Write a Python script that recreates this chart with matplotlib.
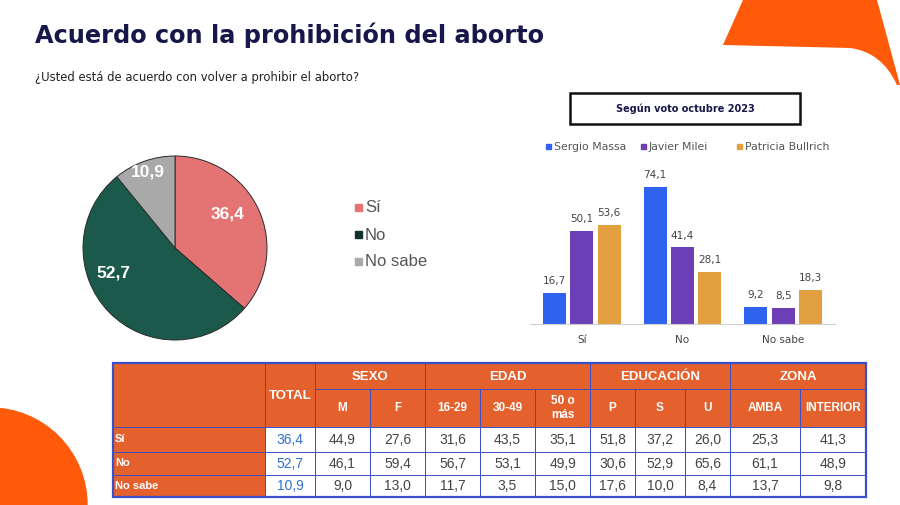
import matplotlib.pyplot as plt
import numpy as np
from matplotlib.patches import Rectangle, Circle, PathPatch
from matplotlib.path import Path

# pie data
pie_labels = ['Sí', 'No', 'No sabe']
pie_values = [36.4, 52.7, 10.9]
pie_colors = ['#e47474', '#1b5a4b', '#a9a9a9']

# bars by vote
bar_groups = ['Sí', 'No', 'No sabe']
candidates = ['Sergio Massa', 'Javier Milei', 'Patricia Bullrich']
massa = [16.7, 74.1, 9.2]
milei = [50.1, 41.4, 8.5]
bullrich = [53.6, 28.1, 18.3]
bar_colors = ['#2f62ee', '#6c3fb6', '#e2a040']

# table
table_rows = ['Sí', 'No', 'No sabe']
table_groups = [('SEXO', 2), ('EDAD', 3), ('EDUCACIÓN', 3), ('ZONA', 2)]
table_cols = ['M', 'F', '16-29', '30-49', '50 o\nmás', 'P', 'S', 'U', 'AMBA', 'INTERIOR']
total = [36.4, 52.7, 10.9]
table_vals = [
    [44.9, 27.6, 31.6, 43.5, 35.1, 51.8, 37.2, 26.0, 25.3, 41.3],
    [46.1, 59.4, 56.7, 53.1, 49.9, 30.6, 52.9, 65.6, 61.1, 48.9],
    [9.0, 13.0, 11.7, 3.5, 15.0, 17.6, 10.0, 8.4, 13.7, 9.8],
]

ORANGE = '#ff5a0a'
HEAD = '#e4602c'
BLUE_LINE = '#3a4fc8'
NAVY = '#17174a'
W, H = 900, 505


def fmt(v):
    return f'{v:.1f}'.replace('.', ',')


fig = plt.figure(figsize=(9, 5.05), dpi=100)
fig.patch.set_facecolor('white')

# background axes in pixel units
bg = fig.add_axes([0, 0, 1, 1])
bg.set_xlim(0, W)
bg.set_ylim(H, 0)
bg.axis('off')

bg.add_patch(Circle((-10, 505), 97, color=ORANGE, zorder=1))
verts = [(743, 0), (877, 0), (900, 85), (897, 85), (882, 52), (850, 48), (723, 45), (743, 0)]
codes = [Path.MOVETO, Path.LINETO, Path.LINETO, Path.LINETO, Path.CURVE3, Path.CURVE3,
         Path.LINETO, Path.CLOSEPOLY]
bg.add_patch(PathPatch(Path(verts, codes), color=ORANGE, lw=0, zorder=1))

bg.text(35, 35, 'Acuerdo con la prohibición del aborto', fontsize=17.3, fontweight='bold',
        color=NAVY, va='center', ha='left', family='DejaVu Sans')
bg.text(35, 78, '¿Usted está de acuerdo con volver a prohibir el aborto?', fontsize=8.4,
        color='#222222', va='center', ha='left', family='DejaVu Sans')

# pie legend
for i, (lab, c) in enumerate(zip(pie_labels, pie_colors)):
    y = 208 + i * 27
    bg.add_patch(Rectangle((355, y - 4), 7, 7, color=c if i != 1 else '#10302a'))
    bg.text(365, y, lab, fontsize=12, color='#555555', va='center', ha='left',
            family='Liberation Sans')

# bar title box
bg.add_patch(Rectangle((570, 93), 230, 31, fill=False, ec='#111111', lw=1.8))
bg.text(685, 109, 'Según voto octubre 2023', fontsize=7, fontweight='bold', color=NAVY,
        ha='center', va='center', family='DejaVu Sans')
leg_x = [546, 641, 737]
for x, lab, c in zip(leg_x, candidates, bar_colors):
    bg.add_patch(Rectangle((x, 144), 5, 5, color=c))
    bg.text(x + 8, 146.5, lab, fontsize=7.8, color='#555555', va='center', ha='left',
            family='DejaVu Sans')

# table
col_edges = [113, 265, 315, 370, 425, 480, 535, 590, 635, 685, 730, 800, 866]
row_edges = [363, 389, 427, 452, 475, 497]
hfont = dict(color='white', fontweight='bold', family='Liberation Sans', fontsize=9.5)


def cell(x0, x1, y0, y1, fc):
    bg.add_patch(Rectangle((x0, y0), x1 - x0, y1 - y0, fc=fc, ec=BLUE_LINE, lw=0.7, zorder=2))


cell(col_edges[0], col_edges[1], row_edges[0], row_edges[2], HEAD)
cell(col_edges[1], col_edges[2], row_edges[0], row_edges[2], HEAD)
bg.text((col_edges[1] + col_edges[2]) / 2, 396, 'TOTAL', ha='center', va='center', zorder=3, **hfont)
k = 2
for name, n in table_groups:
    x0, x1 = col_edges[k], col_edges[k + n]
    cell(x0, x1, row_edges[0], row_edges[1], HEAD)
    bg.text((x0 + x1) / 2, 377, name, ha='center', va='center', zorder=3, **hfont)
    k += n
for j, name in enumerate(table_cols):
    x0, x1 = col_edges[j + 2], col_edges[j + 3]
    cell(x0, x1, row_edges[1], row_edges[2], HEAD)
    bg.text((x0 + x1) / 2, (row_edges[1] + row_edges[2]) / 2, name, ha='center', va='center',
            zorder=3, linespacing=1.3, **dict(hfont, fontsize=8.5))
for i, rname in enumerate(table_rows):
    y0, y1 = row_edges[i + 2], row_edges[i + 3]
    yc = (y0 + y1) / 2
    cell(col_edges[0], col_edges[1], y0, y1, HEAD)
    bg.text(col_edges[0] + 2, yc, rname, ha='left', va='center', zorder=3,
            **dict(hfont, fontsize=8))
    cell(col_edges[1], col_edges[2], y0, y1, 'white')
    bg.text((col_edges[1] + col_edges[2]) / 2, yc, fmt(total[i]), ha='center', va='center',
            color='#2f6fd0', fontsize=10, family='Liberation Sans', zorder=3)
    for j, v in enumerate(table_vals[i]):
        x0, x1 = col_edges[j + 2], col_edges[j + 3]
        cell(x0, x1, y0, y1, 'white')
        bg.text((x0 + x1) / 2, yc, fmt(v), ha='center', va='center', color='#444444',
                fontsize=10, family='Liberation Sans', zorder=3)
bg.add_patch(Rectangle((col_edges[0], row_edges[0]), col_edges[-1] - col_edges[0],
                       row_edges[-1] - row_edges[0], fill=False, ec=BLUE_LINE, lw=1.6, zorder=4))

# pie
cx, cy, r = 175, 248, 92
pax = fig.add_axes([(cx - r) / W, (H - cy - r) / H, 2 * r / W, 2 * r / H])
wedges, _ = pax.pie(pie_values, colors=pie_colors, startangle=90, counterclock=False,
                    wedgeprops=dict(edgecolor='#2a2a2a', linewidth=0.7))
pax.set_xlim(-1, 1)
pax.set_ylim(-1, 1)
lab_r = [0.68, 0.72, 0.88]
lab_shift = [8, -22, 0]
for w, v, rr, sh in zip(wedges, pie_values, lab_r, lab_shift):
    ang = np.deg2rad((w.theta1 + w.theta2) / 2 + sh)
    pax.text(rr * np.cos(ang), rr * np.sin(ang), fmt(v), ha='center', va='center',
             color='white', fontsize=12.5, fontweight='bold', family='Liberation Sans')

# bars
bax = fig.add_axes([530 / W, (H - 324) / H, 305 / W, 154 / H])
x = np.arange(len(bar_groups))
offs = [-0.272, 0, 0.272]
for series, c, o in zip([massa, milei, bullrich], bar_colors, offs):
    bars = bax.bar(x + o, series, width=0.228, color=c)
    for b, v in zip(bars, series):
        bax.annotate(fmt(v), (b.get_x() + b.get_width() / 2, v), xytext=(0, 5),
                     textcoords='offset points', ha='center', va='bottom', fontsize=7.5,
                     color='#444444')
bax.set_xlim(-0.515, 2.515)
bax.set_ylim(0, 83.3)
for s in ['top', 'right', 'left']:
    bax.spines[s].set_visible(False)
bax.spines['bottom'].set_color('#d0d0d0')
bax.set_yticks([])
bax.set_xticks(x)
bax.set_xticklabels(bar_groups, fontsize=7.5, color='#444444')
bax.tick_params(axis='x', length=0, pad=8)
bax.patch.set_alpha(0)

fig.savefig('out.png', dpi=100)
